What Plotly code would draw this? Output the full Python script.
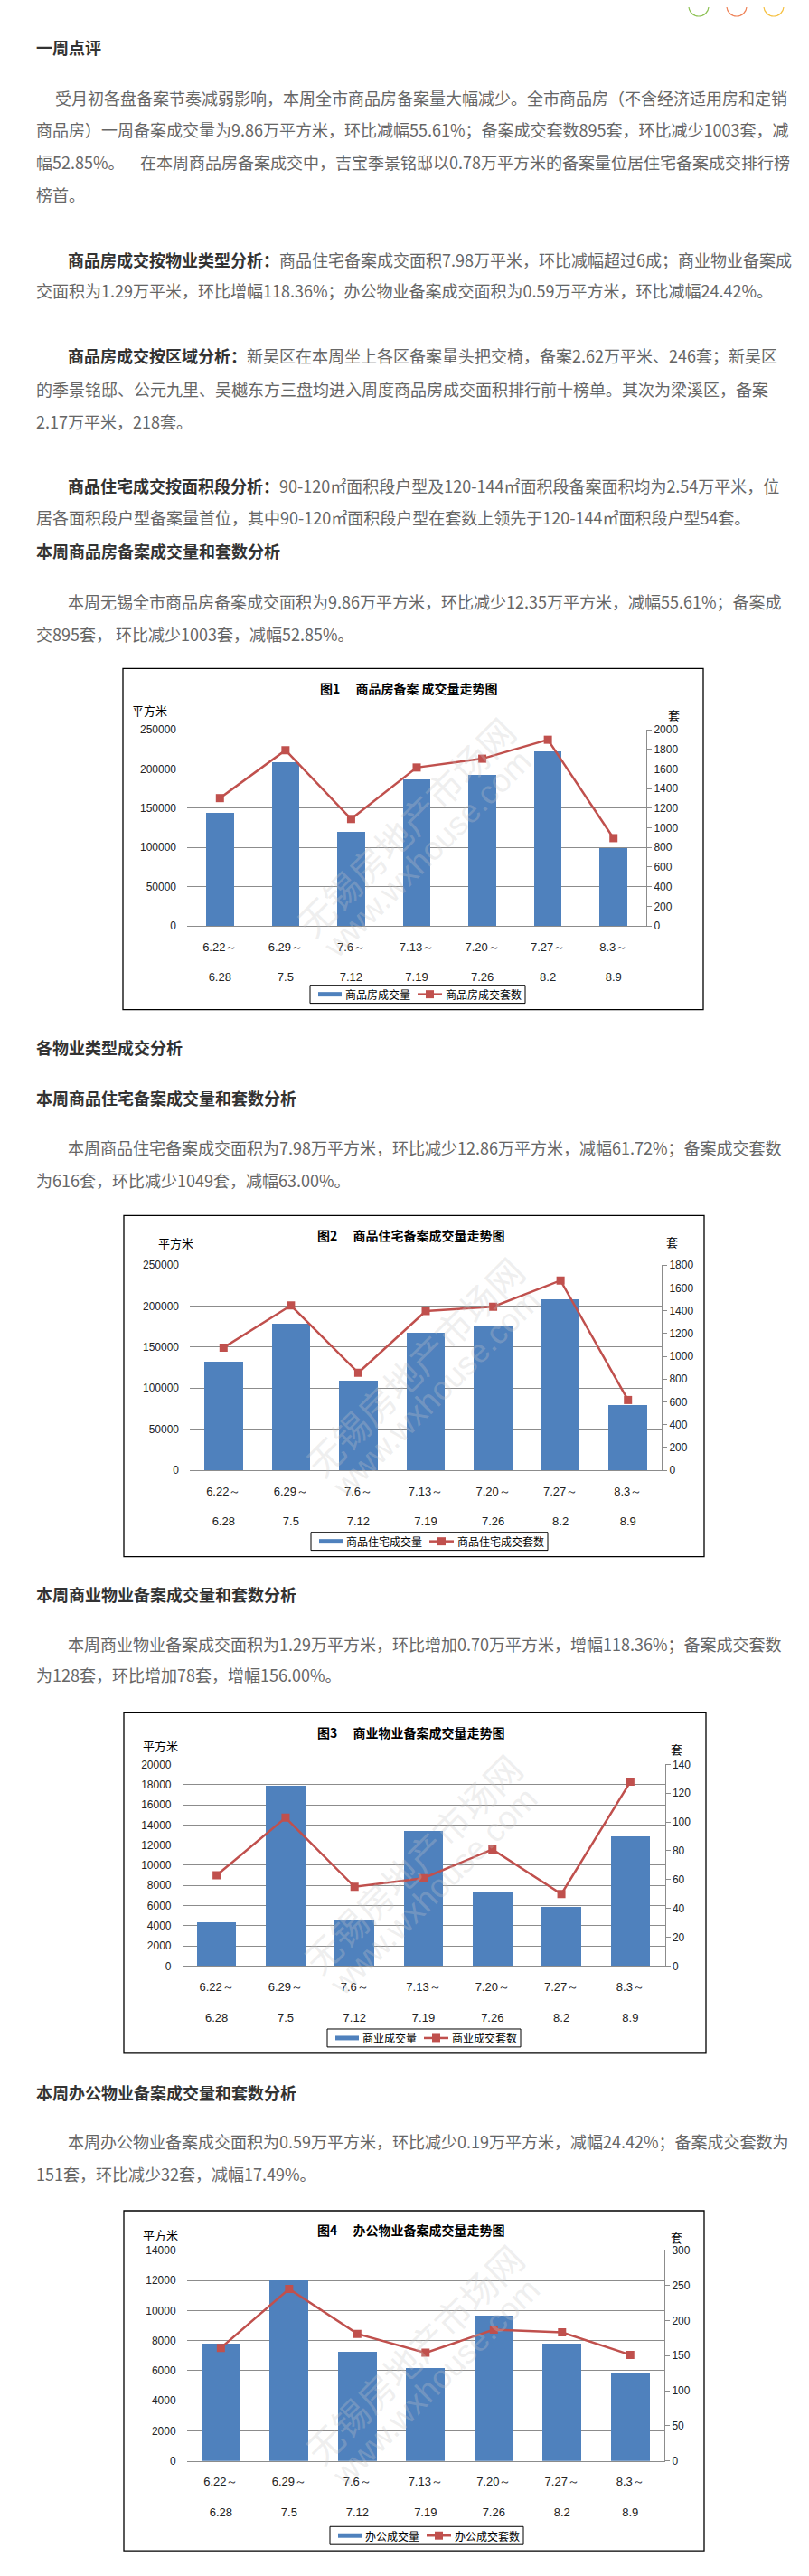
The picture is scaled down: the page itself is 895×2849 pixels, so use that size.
import plotly.graph_objects as go

W, H = 895, 2849

# week categories
weeks_start = ["6.22～", "6.29～", "7.6～", "7.13～", "7.20～", "7.27～", "8.3～"]
weeks_end = ["6.28", "7.5", "7.12", "7.19", "7.26", "8.2", "8.9"]

# 图1 商品房
total_area = [144500, 208500, 120400, 187000, 192600, 222100, 98600]
total_units = [1303, 1791, 1090, 1615, 1705, 1898, 895]
# 图2 商品住宅
housing_area = [132500, 179000, 108600, 167700, 175600, 208400, 79800]
housing_units = [1076, 1446, 855, 1397, 1435, 1665, 616]
# 图3 商业
commerce_area = [4300, 17900, 4600, 13400, 7400, 5900, 12900]
commerce_units = [63, 103, 55, 61, 81, 50, 128]
# 图4 办公
office_area = [7770, 12000, 7230, 6170, 9630, 7800, 5900]
office_units = [161, 245, 181, 154, 187, 183, 151]

BLUE = "#4F81BD"
RED = "#C0504D"
GRID = "#8C8C8C"
CJK = "Noto Sans CJK SC"
TICKFONT = dict(family="Liberation Sans", size=12, color="#222")


def fx(p):
    return p / W


def fy(p):
    return 1 - p / H


charts = [
    dict(title="图1　 商品房备案 成交量走势图", area=total_area, units=total_units,
         bar_name="商品房成交量", line_name="商品房成交套数",
         box=(128, 728, 770, 1107), plot=(199, 796, 707, 1014), bw=0.42,
         lrange=250000, ldt=50000, rrange=2000, rdt=200,
         title_xy=(444, 750), unit_l=(157, 774), unit_r=(737, 779), legend=(335, 1090)),
    dict(title="图2　 商品住宅备案成交量走势图", area=housing_area, units=housing_units,
         bar_name="商品住宅成交量", line_name="商品住宅成交套数",
         box=(129, 1336, 771, 1715), plot=(202, 1391, 724, 1619), bw=0.57,
         lrange=250000, ldt=50000, rrange=1800, rdt=200,
         title_xy=(446, 1358), unit_l=(186, 1366), unit_r=(735, 1365), legend=(336, 1698)),
    dict(title="图3　 商业物业备案成交量走势图", area=commerce_area, units=commerce_units,
         bar_name="商业成交量", line_name="商业成交套数",
         box=(129, 1888, 773, 2267), plot=(193.5, 1946, 727.5, 2170), bw=0.57,
         lrange=20000, ldt=2000, rrange=140, rdt=20,
         title_xy=(446, 1910), unit_l=(169, 1925), unit_r=(740, 1929), legend=(354, 2250)),
    dict(title="图4　 办公物业备案成交量走势图", area=office_area, units=office_units,
         bar_name="办公成交量", line_name="办公成交套数",
         box=(129, 2442, 771, 2820), plot=(198.6, 2486, 727, 2720), bw=0.57,
         lrange=14000, ldt=2000, rrange=300, rdt=50,
         title_xy=(446, 2463), unit_l=(169, 2469), unit_r=(740, 2472), legend=(357, 2803)),
]

fig = go.Figure()
layout = {}
shapes = []
annotations = []


def text(x, y, s, size=18, color="#666", anchor="left", family=CJK, **kw):
    annotations.append(dict(x=fx(x), y=fy(y), xref="paper", yref="paper", text=s,
                            showarrow=False, xanchor=anchor, yanchor="middle",
                            font=dict(family=family, size=size, color=color), **kw))


ticktext = [f"{s}<br><br>{e}" for s, e in zip(weeks_start, weeks_end)]

for i, c in enumerate(charts):
    n = i + 1
    xa = "x" if n == 1 else f"x{n}"
    yl = "y" if n == 1 else f"y{2 * n - 1}"
    yr = f"y{2 * n}"
    fig.add_trace(go.Bar(x=weeks_end, y=c["area"], xaxis=xa, yaxis=yl, width=c["bw"],
                         marker=dict(color=BLUE, line=dict(width=0)), showlegend=False))
    fig.add_trace(go.Scatter(x=weeks_end, y=c["units"], xaxis=xa, yaxis=yr, mode="lines+markers",
                             line=dict(color=RED, width=2.5),
                             marker=dict(symbol="square", size=9, color=RED), showlegend=False))
    x0, y0, x1, y1 = c["plot"]
    xdom = [fx(x0), fx(x1)]
    ydom = [fy(y1), fy(y0)]
    layout["xaxis" if n == 1 else f"xaxis{n}"] = dict(
        domain=xdom, anchor=yl, type="category", range=[-0.5, 6.5],
        tickvals=weeks_end, ticktext=ticktext, showline=True, linecolor=GRID, linewidth=1,
        ticks="", showgrid=False, tickfont=dict(family="Liberation Sans", size=13, color="#222"),
        ticklabelstandoff=11, fixedrange=True)
    layout["yaxis" if n == 1 else f"yaxis{2 * n - 1}"] = dict(
        domain=ydom, anchor=xa, range=[0, c["lrange"]], dtick=c["ldt"], tick0=0,
        tickformat="d", showgrid=True, gridcolor=GRID, gridwidth=1, zeroline=False,
        showline=False, ticks="", tickfont=TICKFONT, ticklabelstandoff=11, fixedrange=True)
    layout[f"yaxis{2 * n}"] = dict(
        domain=ydom, anchor=xa, overlaying=yl, side="right", range=[0, c["rrange"]],
        dtick=c["rdt"], tick0=0, tickformat="d", showgrid=False, zeroline=False, showline=True,
        linecolor=GRID, ticks="outside", ticklen=5, tickcolor=GRID, tickfont=TICKFONT,
        fixedrange=True)

    # chart frame
    bx0, by0, bx1, by1 = c["box"]
    shapes.append(dict(type="rect", xref="paper", yref="paper", x0=fx(bx0), x1=fx(bx1),
                       y0=fy(by1), y1=fy(by0), line=dict(color="#000", width=1.3)))
    text(*c["title_xy"], f"<b>{c['title']}</b>", size=14, color="#000", anchor="center")
    text(*c["unit_l"], "平方米", size=13, color="#000", anchor="center")
    text(*c["unit_r"], "套", size=13, color="#000", anchor="center")

    # watermark
    cx, cy = (x0 + x1) / 2, (y0 + y1) / 2
    text(cx - 13, cy - 2, "无锡房地产市场网", size=40, color="rgba(200,200,200,0.3)",
         anchor="center", textangle=-45)
    text(cx + 11, cy + 29, "www.wxhouse.com", size=36, color="rgba(200,200,200,0.3)",
         anchor="center", family="Liberation Sans", textangle=-45)

    # legend
    lx, ly = c["legend"]
    w1 = 12 * len(c["bar_name"])
    w2 = 12 * len(c["line_name"])
    lw = 9 + 26 + 2 + w1 + 10 + 27 + 2 + w2 + 6
    shapes.append(dict(type="rect", xref="paper", yref="paper", x0=fx(lx), x1=fx(lx + lw),
                       y0=fy(ly + 10), y1=fy(ly - 10), line=dict(color="#000", width=1),
                       fillcolor="white"))
    shapes.append(dict(type="rect", xref="paper", yref="paper", x0=fx(lx + 9), x1=fx(lx + 35),
                       y0=fy(ly + 2.5), y1=fy(ly - 2.5), line=dict(width=0), fillcolor=BLUE))
    text(lx + 37, ly, c["bar_name"], size=12, color="#000")
    sx = lx + 37 + w1 + 10
    shapes.append(dict(type="line", xref="paper", yref="paper", x0=fx(sx), x1=fx(sx + 27),
                       y0=fy(ly), y1=fy(ly), line=dict(color=RED, width=2.5)))
    shapes.append(dict(type="rect", xref="paper", yref="paper", x0=fx(sx + 9), x1=fx(sx + 18),
                       y0=fy(ly + 4.5), y1=fy(ly - 4.5), line=dict(width=0), fillcolor=RED))
    text(sx + 29, ly, c["line_name"], size=12, color="#000")

# share icons cut off at the very top
for cxp, col in [(765, "#8CC152"), (807, "#EE8055"), (848, "#F5C040")]:
    shapes.append(dict(type="circle", xref="paper", yref="paper", x0=fx(cxp - 11), x1=fx(cxp + 11),
                       y0=fy(3), y1=fy(-19), line=dict(color=col, width=1.2)))

HEAD = "#333"


def head(y, s):
    text(30, y, f"<b>{s}</b>", size=18, color=HEAD)


def bold_lead(lead, rest):
    return f"<span style='color:{HEAD}'><b>{lead}</b></span>{rest}"


head(37, "一周点评")
text(51, 93, "受月初各盘备案节奏减弱影响，本周全市商品房备案量大幅减少。全市商品房（不含经济适用房和定销")
text(30, 129, "商品房）一周备案成交量为9.86万平方米，环比减幅55.61%；备案成交套数895套，环比减少1003套，减")
text(30, 165, "幅52.85%。")
text(145, 165, "在本周商品房备案成交中，吉宝季景铭邸以0.78万平方米的备案量位居住宅备案成交排行榜")
text(30, 201, "榜首。")

text(65, 273, bold_lead("商品房成交按物业类型分析：", "商品住宅备案成交面积7.98万平米，环比减幅超过6成；商业物业备案成"))
text(30, 308, "交面积为1.29万平米，环比增幅118.36%；办公物业备案成交面积为0.59万平方米，环比减幅24.42%。")

text(65, 380, bold_lead("商品房成交按区域分析：", "新吴区在本周坐上各区备案量头把交椅，备案2.62万平米、246套；新吴区"))
text(30, 417, "的季景铭邸、公元九里、吴樾东方三盘均进入周度商品房成交面积排行前十榜单。其次为梁溪区，备案")
text(30, 453, "2.17万平米，218套。")

text(65, 525, bold_lead("商品住宅成交按面积段分析：", "90-120㎡面积段户型及120-144㎡面积段备案面积均为2.54万平米，位"))
text(30, 560, "居各面积段户型备案量首位，其中90-120㎡面积段户型在套数上领先于120-144㎡面积段户型54套。")

head(597, "本周商品房备案成交量和套数分析")
text(65, 653, "本周无锡全市商品房备案成交面积为9.86万平方米，环比减少12.35万平方米，减幅55.61%；备案成")
text(30, 689, "交895套， 环比减少1003套，减幅52.85%。")

head(1149, "各物业类型成交分析")
head(1205, "本周商品住宅备案成交量和套数分析")
text(65, 1260, "本周商品住宅备案成交面积为7.98万平方米，环比减少12.86万平方米，减幅61.72%；备案成交套数")
text(30, 1296, "为616套，环比减少1049套，减幅63.00%。")

head(1757, "本周商业物业备案成交量和套数分析")
text(65, 1812, "本周商业物业备案成交面积为1.29万平方米，环比增加0.70万平方米，增幅118.36%；备案成交套数")
text(30, 1846, "为128套，环比增加78套，增幅156.00%。")

head(2310, "本周办公物业备案成交量和套数分析")
text(65, 2365, "本周办公物业备案成交面积为0.59万平方米，环比减少0.19万平方米，减幅24.42%；备案成交套数为")
text(30, 2401, "151套，环比减少32套，减幅17.49%。")

fig.update_layout(
    width=W, height=H,
    margin=dict(l=0, r=0, t=0, b=0),
    paper_bgcolor="white", plot_bgcolor="white",
    showlegend=False,
    bargap=0,
    shapes=shapes,
    annotations=annotations,
    **layout,
)

fig.write_html("out.html", config={"displayModeBar": False, "staticPlot": True})
